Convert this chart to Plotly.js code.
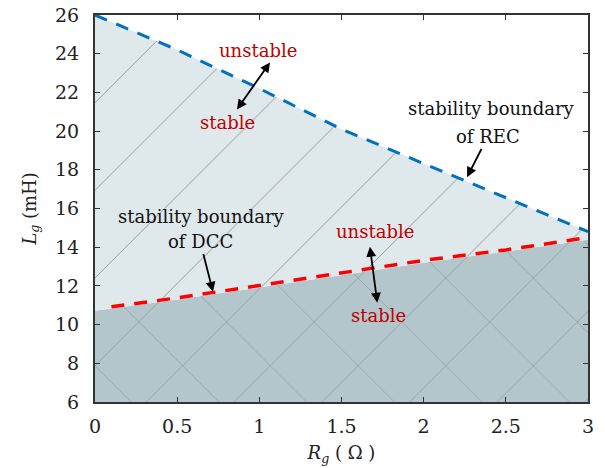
<!DOCTYPE html>
<html>
<head>
<meta charset="utf-8">
<script src="https://cdn.plot.ly/plotly-3.0.1.min.js"></script>
<style>html,body{margin:0;padding:0;background:#fff;}#chart{width:605px;height:468px;}</style>
</head>
<body>
<div id="chart"></div>
<script>
// Rg (ohm) sample points
const rg = [0, 0.5, 1.0, 1.5, 2.0, 2.5, 3.0];
// REC stability boundary Lg (mH)
const recBoundary = [26.0, 24.2, 22.2, 20.1, 18.32, 16.57, 14.8];
// DCC stability boundary (region edge) Lg (mH)
const dccRegion = [10.72, 11.3, 11.92, 12.55, 13.2, 13.78, 14.38];
// DCC stability boundary dashed curve
const dccLineX = [0.1, 0.5, 1.0, 1.5, 2.0, 2.5, 3.0];
const dccLineY = [10.92, 11.38, 12.02, 12.67, 13.32, 13.86, 14.5];
// Axis ticks
const xTicks = [0, 0.5, 1, 1.5, 2, 2.5, 3];
const yTicks = [6, 8, 10, 12, 14, 16, 18, 20, 22, 24, 26];

const serif = 'DejaVu Serif';
const fs = 18;
const tfs = 19;
const lightFill = '#dfe8eb';
const darkFill = '#b3c6cb';
const redText = '#c00000';

const traces = [
  {
    x: rg, y: dccRegion, mode: 'lines', line: {width: 0},
    fill: 'tozeroy', fillcolor: darkFill,
    fillpattern: {shape: 'x', size: 62, solidity: 0.015, fgcolor: '#333', fgopacity: 0.45, bgcolor: darkFill, fillmode: 'replace'},
    hoverinfo: 'skip', showlegend: false
  },
  {
    x: rg, y: recBoundary, mode: 'lines', line: {width: 0},
    fill: 'tonexty', fillcolor: lightFill,
    fillpattern: {shape: '/', size: 62, solidity: 0.015, fgcolor: '#333', fgopacity: 0.45, bgcolor: lightFill, fillmode: 'replace'},
    hoverinfo: 'skip', showlegend: false
  },
  {
    x: rg, y: recBoundary, mode: 'lines',
    line: {color: '#0072bd', width: 3, dash: '13px,10px'},
    hoverinfo: 'skip', showlegend: false
  },
  {
    x: dccLineX, y: dccLineY, mode: 'lines',
    line: {color: '#ff0000', width: 3.5, dash: '13px,10px'},
    hoverinfo: 'skip', showlegend: false
  }
];

// text annotation, optionally with an arrow pointing from the text to (tx, ty)
const note = (x, y, text, color, tx, ty, both) => {
  const a = {
    xref: 'x', yref: 'y', text: text, xanchor: 'center', yanchor: 'middle',
    font: {family: serif, size: fs, color: color}, showarrow: false
  };
  if (tx === undefined) { a.x = x; a.y = y; return a; }
  return Object.assign(a, {
    x: tx, y: ty, ax: x, ay: y, axref: 'x', ayref: 'y', showarrow: true,
    arrowhead: 2, startarrowhead: 2, arrowside: both ? 'end+start' : 'end',
    arrowsize: 1.1, startarrowsize: 1.1, arrowwidth: 1.8, arrowcolor: '#000',
    standoff: 0, startstandoff: 1
  });
};

const layout = {
  width: 605, height: 468,
  margin: {l: 95, r: 17, t: 15, b: 66},
  paper_bgcolor: '#fff', plot_bgcolor: '#fff',
  font: {family: serif, size: fs, color: '#222'},
  xaxis: {
    range: [0, 3], tickvals: xTicks, ticks: 'inside', ticklen: 5, tickwidth: 1,
    tickcolor: '#333', showline: true, linecolor: '#333', linewidth: 2,
    mirror: 'ticks', showgrid: false, zeroline: false, ticklabelstandoff: 6,
    tickfont: {family: serif, size: tfs, color: '#222'},
    title: {text: '<i>R</i><sub><i>g</i></sub> ( Ω )', font: {family: serif, size: fs, color: '#222'}, standoff: 11}
  },
  yaxis: {
    range: [6, 26], tickvals: yTicks, ticks: 'inside', ticklen: 5, tickwidth: 1,
    tickcolor: '#333', showline: true, linecolor: '#333', linewidth: 2,
    mirror: 'ticks', showgrid: false, zeroline: false, ticklabelstandoff: 10,
    tickfont: {family: serif, size: tfs, color: '#222'},
    title: {text: '<i>L</i><sub><i>g</i></sub> (mH)', font: {family: serif, size: fs, color: '#222'}, standoff: 14}
  },
  annotations: [
    note(0.992, 24.17, 'unstable', redText),
    note(0.809, 20.46, 'stable', redText, 1.065, 23.55, true),
    note(2.41, 21.18, 'stability boundary', '#111'),
    note(2.392, 19.74, 'of REC', '#111', 2.264, 17.62, false),
    note(0.645, 15.61, 'stability boundary', '#111'),
    note(0.639, 14.32, 'of DCC', '#111', 0.718, 11.70, false),
    note(1.704, 14.79, 'unstable', redText),
    note(1.728, 10.46, 'stable', redText, 1.673, 14.02, true)
  ]
};

Plotly.newPlot('chart', traces, layout, {staticPlot: true, displayModeBar: false});
</script>
</body>
</html>
